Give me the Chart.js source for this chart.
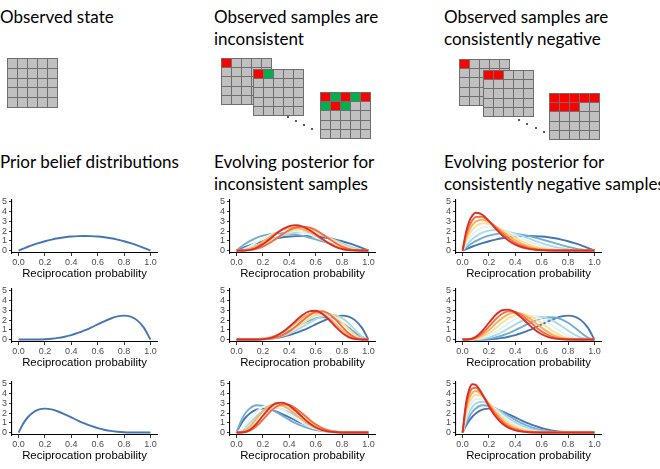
<!DOCTYPE html>
<html>
<head>
<meta charset="utf-8">
<script src="https://cdn.jsdelivr.net/npm/chart.js@4.4.0/dist/chart.umd.min.js"></script>
<style>
  html, body { margin: 0; padding: 0; background: #fff; }
  body { width: 660px; height: 469px; position: relative; overflow: hidden; font-family: Lato, "Open Sans", sans-serif; }
  .head { position: absolute; font-size: 17px; line-height: 22px; color: #000; white-space: nowrap; }
  .state { position: absolute; display: grid; grid-template-columns: repeat(5, 1fr); grid-template-rows: repeat(5, 1fr);
           gap: 1px; padding: 1px; background: #6e6e6e; box-sizing: border-box; }
  .state div { background: #c0c0c0; }
  .state .r { background: #ff0000; }
  .state .g { background: #00b050; }
  .dot { position: absolute; width: 2px; height: 2px; background: #222; border-radius: 1px; }
  canvas { position: absolute; }
</style>
</head>
<body>
<div class="head" style="left:0px;top:6px">Observed state</div>
<div class="head" style="left:214px;top:6px">Observed samples are<br>inconsistent</div>
<div class="head" style="left:444px;top:6px">Observed samples are<br>consistently negative</div>
<div class="head" style="left:0px;top:151px">Prior belief distributions</div>
<div class="head" style="left:214px;top:151px">Evolving posterior for<br>inconsistent samples</div>
<div class="head" style="left:444px;top:151px">Evolving posterior for<br>consistently negative samples</div>

<script>
// grilles x (probabilité)
const probGrid = [0, 0.05, 0.1, 0.15, 0.2, 0.25, 0.3, 0.35, 0.4, 0.45, 0.5, 0.55, 0.6, 0.65, 0.7, 0.75, 0.8, 0.85, 0.9, 0.95, 1];
const probGridFine = [0, 0.025, 0.05, 0.075, 0.1, 0.15, 0.2, 0.25, 0.3, 0.35, 0.4, 0.45, 0.5, 0.55, 0.6, 0.65, 0.7, 0.75, 0.8, 0.85, 0.9, 0.95, 1];

const xTicks = [0, 0.2, 0.4, 0.6, 0.8, 1];
const yTicks = [0, 1, 2, 3, 4, 5];

// densités (grille fine)
const beta2_2 = [0, .146, .285, .416, .54, .765, .96, 1.125, 1.26, 1.365, 1.44, 1.485, 1.5, 1.485, 1.44, 1.365, 1.26, 1.125, .96, .765, .54, .285, 0];
const beta2_3 = [0, .285, .542, .77, .972, 1.301, 1.536, 1.688, 1.764, 1.775, 1.728, 1.634, 1.5, 1.337, 1.152, .956, .756, .563, .384, .23, .108, .029, 0];
const beta2_4 = [0, .463, .857, 1.187, 1.458, 1.842, 2.048, 2.11, 2.058, 1.922, 1.728, 1.498, 1.25, 1.002, .768, .557, .378, .234, .128, .057, .018, .002, 0];
const beta2_5 = [0, .678, 1.222, 1.647, 1.968, 2.349, 2.458, 2.373, 2.161, 1.874, 1.555, 1.235, .938, .677, .461, .293, .17, .088, .038, .013, .003, 0, 0];
const beta2_6 = [0, .925, 1.625, 2.133, 2.48, 2.796, 2.753, 2.492, 2.118, 1.705, 1.307, .951, .656, .428, .258, .143, .071, .031, .011, .003, 0, 0, 0];
const beta2_7 = [0, 1.203, 2.058, 2.631, 2.976, 3.168, 2.936, 2.492, 1.976, 1.478, 1.046, .698, .438, .256, .138, .067, .029, .010, .003, 0, 0, 0, 0];
const beta2_8 = [0, 1.508, 2.514, 3.129, 3.444, 3.463, 3.02, 2.403, 1.78, 1.235, .806, .493, .281, .148, .071, .030, .011, .004, .001, 0, 0, 0, 0];
const beta2_9 = [0, 1.838, 2.985, 3.618, 3.875, 3.679, 3.02, 2.253, 1.555, 1.004, .605, .339, .176, .083, .035, .013, .004, .001, 0, 0, 0, 0, 0];
const beta2_10 = [0, 2.189, 3.466, 4.091, 4.261, 3.821, 2.952, 2.066, 1.333, .797, .443, .228, .107, .046, .017, .006, .002, 0, 0, 0, 0, 0, 0];
const beta2_11 = [0, 2.562, 3.952, 4.541, 4.603, 3.899, 2.835, 1.858, 1.118, .622, .319, .150, .064, .025, .008, .002, 0, 0, 0, 0, 0, 0, 0];
const beta2_12 = [0, 2.952, 4.437, 4.964, 4.895, 3.916, 2.680, 1.646, .925, .478, .226, .098, .038, .013, .004, .001, 0, 0, 0, 0, 0, 0, 0];

// densités (grille normale)
const beta3_3 = [0, .068, .243, .488, .768, 1.055, 1.323, 1.553, 1.728, 1.838, 1.875, 1.838, 1.728, 1.553, 1.323, 1.055, .768, .488, .243, .068, 0];
const beta3_4 = [0, .129, .437, .829, 1.229, 1.582, 1.852, 2.019, 2.074, 2.022, 1.875, 1.654, 1.382, 1.087, .794, .527, .307, .146, .049, .007, 0];
const beta4_4 = [0, .015, .102, .290, .573, .923, 1.297, 1.649, 1.935, 2.123, 2.188, 2.123, 1.935, 1.649, 1.297, .923, .573, .290, .102, .015, 0];
const beta4_5 = [0, .029, .184, .493, .917, 1.384, 1.815, 2.143, 2.323, 2.335, 2.188, 1.910, 1.548, 1.154, .778, .462, .229, .087, .020, .002, 0];
const beta5_5 = [0, .003, .041, .167, .413, .779, 1.225, 1.688, 2.090, 2.364, 2.461, 2.364, 2.090, 1.688, 1.225, .779, .413, .167, .041, .003, 0];
const beta5_6 = [0, .006, .074, .283, .661, 1.168, 1.715, 2.194, 2.508, 2.600, 2.461, 2.128, 1.672, 1.181, .735, .389, .165, .050, .008, 0, 0];

const beta5_2 = [0, 0, .003, .013, .038, .088, .170, .293, .461, .677, .938, 1.235, 1.555, 1.874, 2.161, 2.373, 2.458, 2.349, 1.968, 1.222, 0];
const beta5_3 = [0, .001, .009, .038, .108, .231, .417, .666, .968, 1.303, 1.641, 1.946, 2.177, 2.296, 2.269, 2.076, 1.720, 1.233, .689, .214, 0];
const beta6_3 = [0, 0, .001, .009, .034, .092, .200, .373, .619, .938, 1.313, 1.712, 2.090, 2.388, 2.541, 2.492, 2.202, 1.677, .992, .325, 0];
const beta6_4 = [0, 0, .004, .024, .083, .208, .420, .727, 1.115, 1.547, 1.969, 2.311, 2.508, 2.507, 2.287, 1.869, 1.321, .755, .298, .049, 0];
const beta7_4 = [0, 0, .001, .006, .028, .087, .210, .424, .743, 1.161, 1.641, 2.119, 2.508, 2.716, 2.668, 2.336, 1.762, 1.069, .446, .077, 0];
const beta7_5 = [0, 0, .002, .014, .061, .178, .404, .758, 1.226, 1.755, 2.256, 2.622, 2.759, 2.614, 2.201, 1.606, .969, .441, .123, .011, 0];
const beta8_5 = [0, 0, 0, .004, .021, .077, .208, .455, .841, 1.354, 1.934, 2.472, 2.838, 2.913, 2.642, 2.065, 1.329, .643, .190, .017, 0];
const beta8_6 = [0, 0, .001, .008, .043, .149, .378, .769, 1.312, 1.936, 2.514, 2.893, 2.951, 2.651, 2.060, 1.342, .691, .251, .049, .002, 0];

const beta3_6 = [0, .325, .992, 1.677, 2.202, 2.492, 2.542, 2.387, 2.091, 1.712, 1.313, .941, .619, .373, .200, .092, .035, .009, .001, 0, 0];
const beta3_7 = [0, .463, 1.339, 2.139, 2.643, 2.803, 2.669, 2.328, 1.882, 1.412, .984, .635, .372, .196, .090, .035, .010, .002, 0, 0, 0];
const beta4_7 = [0, .077, .446, 1.069, 1.762, 2.336, 2.669, 2.716, 2.510, 2.118, 1.641, 1.164, .743, .424, .210, .087, .028, .006, .001, 0, 0];
const beta4_8 = [0, .115, .631, 1.428, 2.215, 2.754, 2.936, 2.774, 2.366, 1.831, 1.289, .823, .467, .233, .099, .034, .009, .001, 0, 0, 0];
const beta5_8 = [0, .017, .189, .643, 1.329, 2.065, 2.642, 2.912, 2.839, 2.472, 1.934, 1.358, .841, .455, .208, .077, .021, .004, 0, 0, 0];
const beta5_9 = [0, .027, .277, .888, 1.727, 2.517, 3.005, 3.076, 2.768, 2.209, 1.571, .993, .547, .259, .101, .031, .007, .001, 0, 0, 0];
const beta5_4 = [0, .002, .020, .087, .229, .462, .778, 1.154, 1.548, 1.910, 2.188, 2.335, 2.323, 2.143, 1.815, 1.384, .917, .493, .184, .029, 0];
const beta5_7 = [0, .011, .123, .441, .969, 1.606, 2.201, 2.614, 2.759, 2.622, 2.256, 1.755, 1.226, .758, .404, .178, .061, .014, .002, 0, 0];

// couleurs: a priori (bleu) -> dernier échantillon (rouge)
const palette = ['#4575b4', '#74add1', '#abd9e9', '#e0f3f8', '#fee090', '#fdae61', '#f46d43', '#d73027'];

const F = c => ({ grid: probGridFine, values: c });
const N = c => ({ grid: probGrid, values: c });

// panneaux: [colonne][ligne]
const panels = [
  [[F(beta2_2)], [N(beta5_2)], [F(beta2_5)]],
  [
    [F(beta2_2), F(beta2_3), N(beta3_3), N(beta3_4), N(beta4_4), N(beta4_5), N(beta5_5), N(beta5_6)],
    [N(beta5_2), N(beta5_3), N(beta6_3), N(beta6_4), N(beta7_4), N(beta7_5), N(beta8_5), N(beta8_6)],
    [F(beta2_5), F(beta2_6), N(beta3_6), N(beta3_7), N(beta4_7), N(beta4_8), N(beta5_8), N(beta5_9)]
  ],
  [
    [F(beta2_2), F(beta2_3), F(beta2_4), F(beta2_5), F(beta2_6), F(beta2_7), F(beta2_8), F(beta2_9)],
    [N(beta5_2), N(beta5_3), N(beta5_4), N(beta5_5), N(beta5_6), N(beta5_7), N(beta5_8), N(beta5_9)],
    [F(beta2_5), F(beta2_6), F(beta2_7), F(beta2_8), F(beta2_9), F(beta2_10), F(beta2_11), F(beta2_12)]
  ]
];

const colLeft = [12, 230, 456];
const rowTop = [198, 287, 380];

const axisFont = { family: '"Liberation Sans", Arial, sans-serif', size: 9 };
const titleFont = { family: '"Liberation Sans", Arial, sans-serif', size: 11.4 };

// Dessiner un panneau
function drawPanel(left, top, curves) {
    const cv = document.createElement('canvas');
    cv.width = 167;
    cv.height = 90;
    cv.style.left = (left - 14) + 'px';
    cv.style.top = (top - 6) + 'px';
    document.body.appendChild(cv);

    const n = curves.length;
    const datasets = curves.map((c, i) => ({
        data: c.values.map((v, j) => ({ x: c.grid[j], y: v })),
        borderColor: palette[i],
        borderWidth: 1.9,
        pointRadius: 0,
        fill: false,
        cubicInterpolationMode: 'monotone',
        order: n - i
    }));

    const tickMarks = { drawOnChartArea: false, drawTicks: true, tickLength: 3, color: '#333', lineWidth: 1 };
    const axisBorder = { display: true, color: '#000', width: 1.1 };

    new Chart(cv, {
        type: 'line',
        data: { datasets: datasets },
        options: {
            responsive: false,
            animation: false,
            devicePixelRatio: 1,
            layout: { padding: { top: 6, right: 8, left: 0, bottom: 0 } },
            plugins: { legend: { display: false }, tooltip: { enabled: false } },
            scales: {
                x: {
                    type: 'linear', min: -0.05, max: 1.05,
                    afterBuildTicks: s => { s.ticks = xTicks.map(v => ({ value: v })); },
                    afterFit: s => { s.height = 29; },
                    ticks: { color: '#4d4d4d', font: axisFont, padding: 1, maxRotation: 0, autoSkip: false,
                             callback: v => Number(v).toFixed(1) },
                    grid: tickMarks,
                    border: axisBorder,
                    title: { display: true, text: 'Reciprocation probability', color: '#000', font: titleFont,
                             padding: { top: 0, bottom: 1 } }
                },
                y: {
                    type: 'linear', min: -0.25, max: 5.25,
                    afterBuildTicks: s => { s.ticks = yTicks.map(v => ({ value: v })); },
                    afterFit: s => { s.width = 14; },
                    ticks: { color: '#4d4d4d', font: axisFont, padding: 2, autoSkip: false,
                             callback: v => String(v) },
                    grid: tickMarks,
                    border: axisBorder
                }
            }
        }
    });
}

// Petites grilles d'états observés
function drawState(left, top, w, h, pattern) {
    const g = document.createElement('div');
    g.className = 'state';
    g.style.left = left + 'px';
    g.style.top = top + 'px';
    g.style.width = w + 'px';
    g.style.height = h + 'px';
    for (let i = 0; i < 25; i++) {
        const c = document.createElement('div');
        const p = pattern[i] || '.';
        if (p === 'R') c.className = 'r';
        if (p === 'G') c.className = 'g';
        g.appendChild(c);
    }
    document.body.appendChild(g);
}

function drawDots(points) {
    points.forEach(p => {
        const d = document.createElement('div');
        d.className = 'dot';
        d.style.left = p[0] + 'px';
        d.style.top = p[1] + 'px';
        document.body.appendChild(d);
    });
}

drawState(7, 58, 51, 50, '');
drawState(221, 58, 51, 47, 'R');
drawState(253, 69, 51, 47, 'RG');
drawState(320, 92, 51, 47, 'RGRGRGRG');
drawState(459, 59, 51, 47, 'R');
drawState(483, 70, 51, 47, 'RR');
drawState(549, 93, 51, 47, 'RRRRRRRR');
drawDots([[287, 116], [295, 120], [303, 124], [311, 128]]);
drawDots([[518, 119], [526, 123], [535, 127], [543, 131]]);

panels.forEach((col, ci) => {
    col.forEach((curves, ri) => drawPanel(colLeft[ci], rowTop[ri], curves));
});
</script>
</body>
</html>
